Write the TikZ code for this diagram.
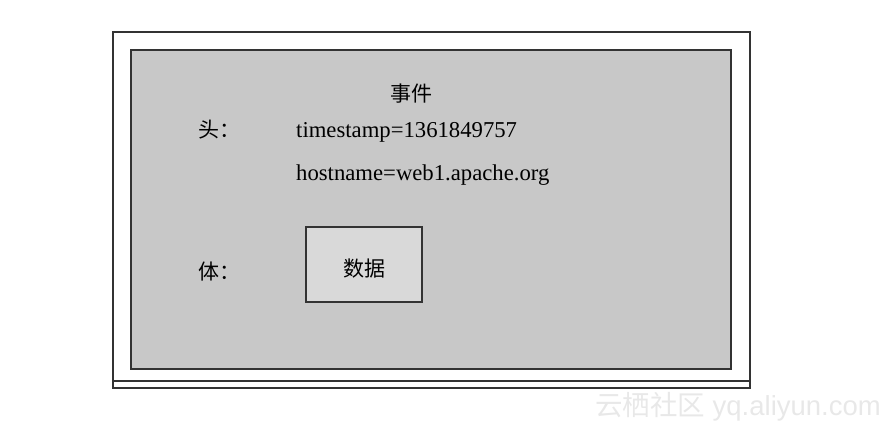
\documentclass[tikz,border=0pt]{standalone}
\usepackage{fontspec}
\setmainfont{Liberation Serif}
\newfontfamily\cjk{Noto Sans CJK SC}
\newfontfamily\wmfont{Liberation Sans}
\usepackage{tikz}
\usetikzlibrary{calc}
\definecolor{framegray}{HTML}{333333}
\definecolor{boxgray}{HTML}{C8C8C8}
\definecolor{datagray}{HTML}{D9D9D9}
\definecolor{markgray}{HTML}{E8E8E8}

\begin{document}
\begin{tikzpicture}[x=1pt,y=-1pt,font=\fontsize{22.7}{26}\selectfont]
          \useasboundingbox (0,0) rectangle (893,432);
          \draw[framegray,line width=1.6pt] (113,32) rectangle (750,388);
          \draw[framegray,line width=1.2pt] (113,381)--(750,381);
          \draw[framegray,line width=1.6pt,fill=boxgray] (131,50) rectangle (731,369);
          \node[draw=framegray,line width=1.6pt,fill=datagray,minimum width=116pt,minimum height=75pt,text height=24pt,text depth=0pt] (data) at (364,264.5) {\cjk\fontsize{21}{24}\selectfont 数据};
          \node (event) at (411,94) {\cjk\fontsize{21}{24}\selectfont 事件};
          \node[anchor=west] (head) at (195,130) {\cjk\fontsize{21}{24}\selectfont 头：};
          \node[anchor=west] (body) at (195,272) {\cjk\fontsize{21}{24}\selectfont 体：};
          \node[anchor=base west,inner sep=0pt] (ts) at (296,137) {timestamp=1361849757};
          \node[anchor=base west,inner sep=0pt] (host) at (296,180) {hostname=web1.apache.org};
          \node[anchor=east,text=markgray,inner sep=0pt] (mark) at (881,407) {\cjk\fontsize{27.5}{30}\selectfont 云栖社区\wmfont\ yq.aliyun.com};
        \end{tikzpicture}
\end{document}
